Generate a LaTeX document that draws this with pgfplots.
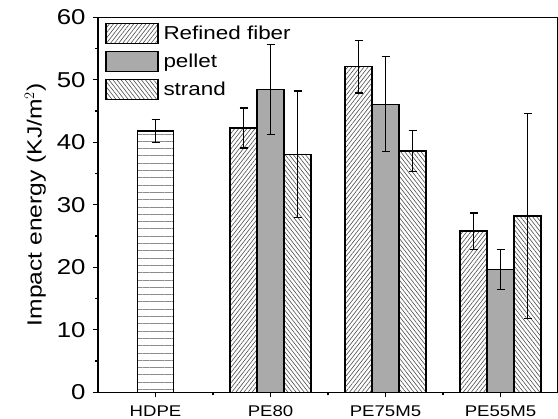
\documentclass[border=0pt]{standalone}
\usepackage{fontspec}
\setmainfont{Liberation Sans}[FakeStretch=1.2]
\usepackage{pgfplots}
\usepackage{pgfplotstable}
\pgfplotsset{compat=1.18}
\usetikzlibrary{patterns.meta,calc}

\pgfplotstableread{
x y e
0 41.8 1.8
}\hdpe
\pgfplotstableread{
x y e
1 42.3 3.2
2 52.1 4.2
3 25.8 2.9
}\refined
\pgfplotstableread{
x y e
1 48.5 7.2
2 46.1 7.6
3 19.6 3.2
}\pellet
\pgfplotstableread{
x y e
1 38.1 10.1
2 38.6 3.3
3 28.2 16.4
}\strand

\definecolor{pelletgray}{HTML}{AAAAAA}
\pgfplotsset{boxlegend/.style={legend image code/.code={\draw[##1] (0pt,-10pt) rectangle (52pt,10pt);}}}

\begin{document}
\begin{tikzpicture}
\begin{axis}[
  name=ax,
  scale only axis,
  width=460pt, height=375pt,
  xmin=-0.5, xmax=3.5,
  ymin=0, ymax=60,
  ybar,
  bar width=27pt,
  xtick={0,1,2,3},
  xticklabels={HDPE,PE80,PE75M5,PE55M5},
  minor xtick={0.5,1.5,2.5},
  ytick={0,10,20,30,40,50,60},
  minor ytick={5,15,25,35,45,55},
  tick align=outside,
  tick pos=left,
  major tick length=5pt,
  minor tick length=3pt,
  every tick/.style={black, line width=1.2pt},
  axis line style={line width=1.3pt},
  /pgf/number format/assume math mode=true,
  yticklabel style={font=\fontsize{21.5}{23}\selectfont, xshift=-4pt},
  xticklabel style={font=\fontsize{15.5}{17}\selectfont, yshift=-4.5pt},
  ylabel={Impact energy (KJ/m$^{2}$)},
  ylabel style={font=\fontsize{20.5}{22}\selectfont},
  ylabel shift=4pt,
  legend style={at={(0,1)}, anchor=north west, xshift=7pt, yshift=-5pt,
    draw=none, fill=none, inner sep=0pt,
    font=\fontsize{18.7}{20}\selectfont, row sep=7pt,
    nodes={inner ysep=0pt, inner xsep=3pt},
    /tikz/every odd column/.style={column sep=2pt}},
  legend cell align=left,
  error bars/y dir=both,
  error bars/y explicit,
  error bars/error bar style={line width=1.2pt, black},
  error bars/error mark options={rotate=90, mark size=4pt, line width=1.2pt, black},
]
\addplot[draw=black, line width=1.3pt, bar width=36pt, bar shift=0pt,
  pattern={Lines[angle=0,distance=7.3pt,line width=0.7pt]}, pattern color=black!45,
  forget plot]
  table[x=x,y=y,y error=e]{\hdpe};
\addplot[draw=black, line width=1.3pt, bar shift=-27pt,
  pattern={Lines[angle=52,distance=3.2pt,line width=0.6pt]}, pattern color=black!70,
  boxlegend]
  table[x=x,y=y,y error=e]{\refined};
\addlegendentry{Refined fiber}
\addplot[draw=black, line width=1.3pt, bar shift=0pt, fill=pelletgray, boxlegend]
  table[x=x,y=y,y error=e]{\pellet};
\addlegendentry{pellet}
\addplot[draw=black, line width=1.3pt, bar shift=27pt,
  pattern={Lines[angle=-52,distance=3.2pt,line width=0.6pt]}, pattern color=black!70,
  boxlegend]
  table[x=x,y=y,y error=e]{\strand};
\addlegendentry{strand}
\end{axis}
\pgfresetboundingbox
\path ($(ax.south west)+(-98pt,-26.3pt)$) rectangle ($(ax.north east)+(0pt,17.3pt)$);
\end{tikzpicture}
\end{document}
